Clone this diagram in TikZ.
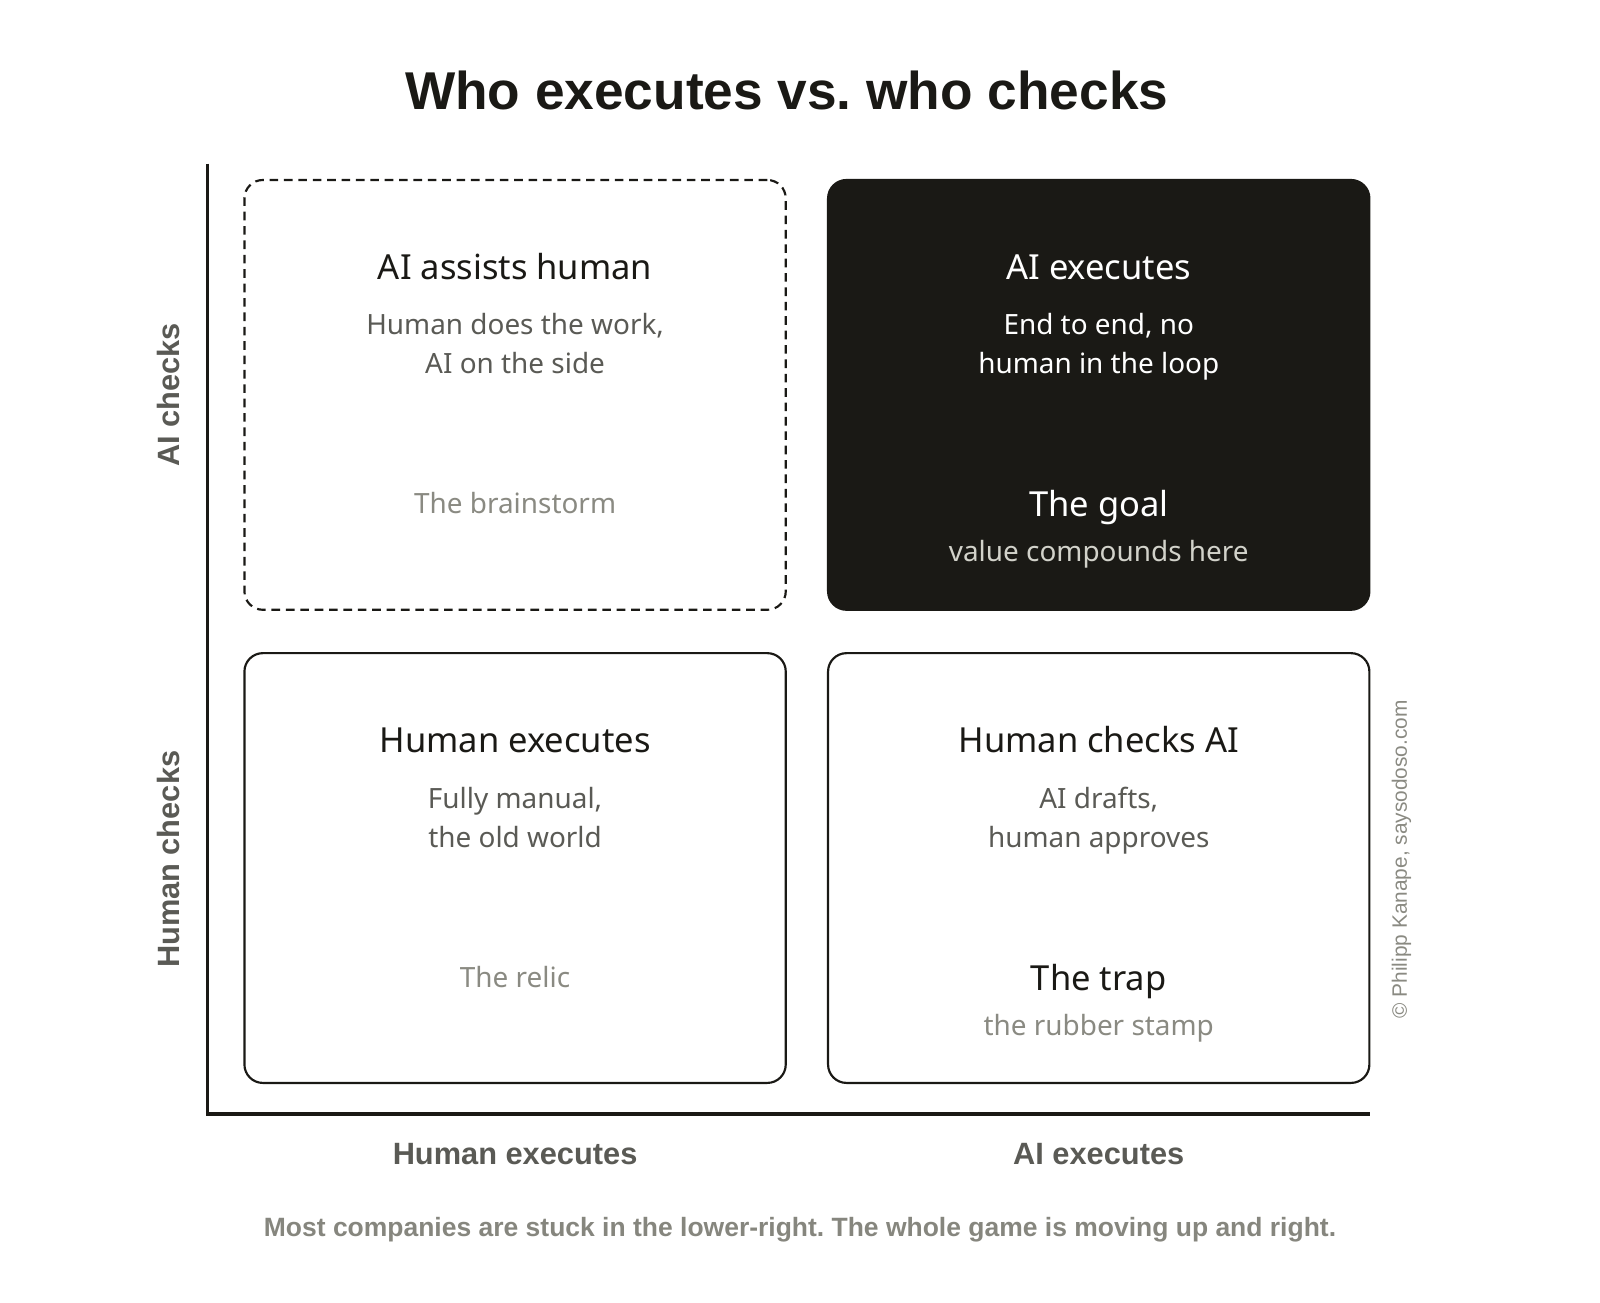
\documentclass[tikz,border=0pt]{standalone}
\usepackage{fontspec}
\setmainfont{Noto Sans}
\newfontfamily\axisfont{Liberation Sans}
\usepackage{tikz}
\usepackage{xcolor}
\usetikzlibrary{shapes, positioning}
\frenchspacing

\definecolor{ink}{HTML}{1A1915}
\definecolor{midgray}{HTML}{5A5A55}
\definecolor{softgray}{HTML}{8A8A82}
\definecolor{notegray}{HTML}{86867E}
\definecolor{paleink}{HTML}{D2D2CA}

\tikzset{
    quad/.style={rectangle, rounded corners=18*0.025cm, minimum width=13.225cm,
        minimum height=10.5cm, inner sep=0pt, outer sep=0pt, line width=1.5pt, draw=ink},
    boxtitle/.style={anchor=base, text=ink, font=\fontsize{24}{29}\selectfont},
    boxsub/.style={anchor=base, text=midgray, font=\fontsize{19.4}{23}\selectfont},
    boxnote/.style={anchor=base, text=softgray, font=\fontsize{19.4}{23}\selectfont},
    bignote/.style={anchor=base, text=ink, font=\fontsize{24}{29}\selectfont},
    axislabel/.style={text=midgray, font=\axisfont\bfseries\fontsize{21.4}{25}\selectfont}
}

\begin{document}
\begin{tikzpicture}[x=0.025cm, y=-0.025cm]
        \useasboundingbox (0, 0) rectangle (1564, 1273);

        \node[font=\axisfont\bfseries\fontsize{37}{44}\selectfont, text=ink, anchor=base] (title) at (769, 107) {Who executes vs. who checks};

        \node[quad, dashed, dash pattern=on 6pt off 4pt] (assist) at (503.5, 386) {};
        \node[quad, fill=ink] (goal) at (1074, 386) {};
        \node[quad] (manual) at (503.5, 848.5) {};
        \node[quad] (trap) at (1074, 848.5) {};

        \node[boxtitle] (assistT) at (503.5, 273) {AI assists human};
        \node[boxsub] (assistA) at (503.5, 327) {Human does the work,};
        \node[boxsub] (assistB) at (503.5, 365) {AI on the side};
        \node[boxnote] (assistN) at (503.5, 502) {The brainstorm};

        \node[boxtitle, text=white] (goalT) at (1074, 273) {AI executes};
        \node[boxsub, text=white] (goalA) at (1074, 327) {End to end, no};
        \node[boxsub, text=white] (goalB) at (1074, 365) {human in the loop};
        \node[bignote, text=white] (goalN) at (1074, 505) {The goal};
        \node[boxsub, text=paleink] (goalS) at (1074, 549) {value compounds here};

        \node[boxtitle] (manualT) at (503.5, 736) {Human executes};
        \node[boxsub] (manualA) at (503.5, 790) {Fully manual,};
        \node[boxsub] (manualB) at (503.5, 828) {the old world};
        \node[boxnote] (manualN) at (503.5, 965) {The relic};

        \node[boxtitle] (trapT) at (1074, 736) {Human checks AI};
        \node[boxsub] (trapA) at (1074, 790) {AI drafts,};
        \node[boxsub] (trapB) at (1074, 828) {human approves};
        \node[bignote] (trapN) at (1074, 968) {The trap};
        \node[boxnote] (trapS) at (1074, 1012) {the rubber stamp};

        \coordinate (top) at (203, 160);
        \coordinate (origin) at (203, 1089);
        \coordinate (right) at (1339, 1089);
        \draw[ink, line width=2.2pt] (top) -- (origin) -- (right);

        \node[axislabel, rotate=90] (aichecks) at (165, 386) {AI checks};
        \node[axislabel, rotate=90] (humanchecks) at (165, 840) {Human checks};
        \node[axislabel] (humanexec) at (503.5, 1128) {Human executes};
        \node[axislabel] (aiexec) at (1074, 1128) {AI executes};

        \node[text=notegray, font=\axisfont\bfseries\fontsize{18.4}{22}\selectfont] (note) at (782, 1202)
            {Most companies are stuck in the lower-right. The whole game is moving up and right.};
        \node[rotate=90, text=softgray, font=\axisfont\fontsize{14.5}{17}\selectfont] (credit) at (1370, 840)
            {\textcopyright\ Philipp Kanape, saysodoso.com};
    \end{tikzpicture}
\end{document}
